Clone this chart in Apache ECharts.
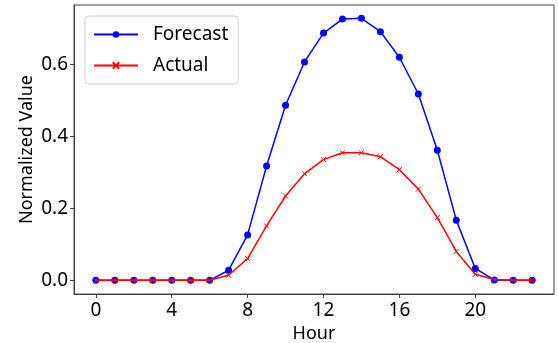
<!DOCTYPE html>
<html>
<head>
<meta charset="utf-8">
<script src="https://cdn.jsdelivr.net/npm/echarts@6/dist/echarts.min.js"></script>
<style>
  html, body { margin: 0; padding: 0; background: #fff; }
  #chart { width: 558px; height: 343px; }
</style>
</head>
<body>
<div id="chart"></div>
<script>
const hours = [0,1,2,3,4,5,6,7,8,9,10,11,12,13,14,15,16,17,18,19,20,21,22,23]
const forecast = [0,0,0,0,0,0,0,0.028,0.126,0.317,0.486,0.606,0.686,0.725,0.727,0.690,0.619,0.517,0.361,0.167,0.033,0.001,0,0]
const actual = [0,0,0,0,0,0,0,0.014,0.060,0.151,0.234,0.296,0.335,0.354,0.354,0.343,0.307,0.253,0.174,0.080,0.017,0.002,0,0]
const xTicks = [0,4,8,12,16,20]
const yTicks = [0,0.2,0.4,0.6]

const font = 'Noto Sans'
const axisColor = '#444'
const chart = echarts.init(document.getElementById('chart'))
const crossPath = 'path://M0,0L10,10M10,0L0,10'

chart.setOption({
  animation: false,
  textStyle: { fontFamily: font },
  grid: {
    left: 74, top: 5, right: 4, bottom: 49,
    outerBoundsMode: 'none',
    show: true, borderColor: axisColor, borderWidth: 1
  },
  legend: {
    orient: 'vertical',
    left: 85, top: 16,
    padding: [9, 10, 9, 8],
    itemGap: 12,
    itemWidth: 44,
    itemHeight: 8,
    borderColor: '#d0d0d0',
    borderWidth: 1,
    borderRadius: 4,
    textStyle: { fontSize: 19, color: '#000', fontFamily: font, padding: [0, 0, 0, 10] },
    data: ['Forecast', 'Actual']
  },
  xAxis: {
    type: 'value',
    min: -1.15, max: 24.15,
    name: 'Hour',
    nameLocation: 'middle',
    nameGap: 29,
    nameTextStyle: { fontSize: 18, color: '#000', fontFamily: font },
    axisLine: { show: true, onZero: false, lineStyle: { color: axisColor } },
    axisTick: { show: true, customValues: xTicks, length: 4, lineStyle: { color: axisColor } },
    axisLabel: { customValues: xTicks, fontSize: 19, color: '#000', margin: 7, fontFamily: font },
    splitLine: { show: false }
  },
  yAxis: {
    type: 'value',
    min: -0.038, max: 0.764,
    name: 'Normalized Value',
    nameLocation: 'middle',
    nameMoveOverlap: false,
    nameGap: 38,
    nameTextStyle: { fontSize: 18, color: '#000', fontFamily: font },
    axisLine: { show: true, onZero: false, lineStyle: { color: axisColor } },
    axisTick: { show: true, customValues: yTicks, length: 4, lineStyle: { color: axisColor } },
    axisLabel: {
      customValues: yTicks, fontSize: 19, color: '#000', margin: 6, fontFamily: font,
      formatter: v => v.toFixed(1)
    },
    splitLine: { show: false }
  },
  series: [
    {
      name: 'Forecast',
      type: 'line',
      data: hours.map((h, i) => [h, forecast[i]]),
      symbol: 'circle',
      symbolSize: 7,
      showAllSymbol: true,
      lineStyle: { color: '#0000ff', width: 1.5 },
      itemStyle: { color: '#0000ff' },
      z: 2
    },
    {
      name: 'Actual',
      type: 'line',
      data: hours.map((h, i) => [h, actual[i]]),
      symbol: crossPath,
      symbolSize: 5,
      showAllSymbol: true,
      lineStyle: { color: '#ff0000', width: 1.5 },
      itemStyle: { color: '#ff0000', borderColor: '#ff0000', borderWidth: 1 },
      z: 3
    }
  ]
})
</script>
</body>
</html>
